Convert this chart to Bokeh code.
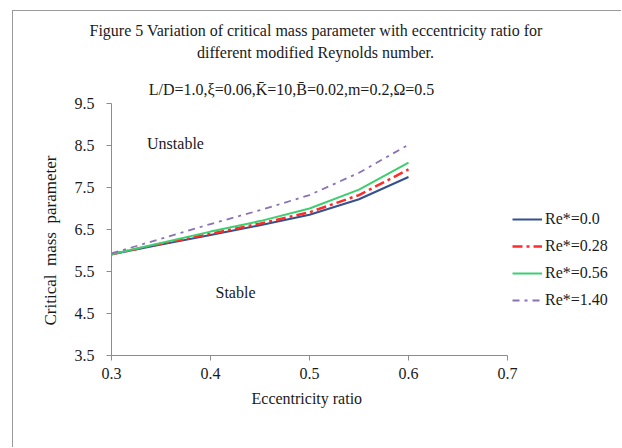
from bokeh.plotting import figure
from bokeh.models import Label, Legend, LegendItem, FixedTicker, Range1d, Title
from bokeh.embed import file_html
from bokeh.resources import INLINE

# ---- data ----
ecc = [0.30, 0.35, 0.40, 0.45, 0.50, 0.55, 0.60]
re_00 = [5.91, 6.14, 6.37, 6.60, 6.85, 7.22, 7.75]
re_028 = [5.91, 6.16, 6.40, 6.64, 6.91, 7.32, 7.93]
re_056 = [5.91, 6.18, 6.45, 6.70, 7.00, 7.45, 8.09]
re_140 = [5.93, 6.28, 6.63, 6.96, 7.32, 7.85, 8.52]
series_names = ["Re*=0.0", "Re*=0.28", "Re*=0.56", "Re*=1.40"]
x_ticks = [0.3, 0.4, 0.5, 0.6, 0.7]
y_ticks = [3.5, 4.5, 5.5, 6.5, 7.5, 8.5, 9.5]
X_MIN, X_MAX = 0.3, 0.7
Y_MIN, Y_MAX = 3.5, 9.5

FONT = "Liberation Serif"
FS = "16px"
TXT = "#1a1a1a"

# window geometry (pixels): axes box left 111, right 507, top 103, bottom 355
OX, OY = 13, 11            # content origin of the figure (after margin + 1px border)
W, H = 622 - OX, 448 - OY
AX_L, AX_R, AX_T, AX_B = 111, 507, 103, 355
FR_T = 40                  # frame top (window y); first title line sits above it
px_x = (AX_R - AX_L) / (X_MAX - X_MIN)
px_y = (AX_B - AX_T) / (Y_MAX - Y_MIN)
x_end = X_MIN + (622 - AX_L) / px_x
y_end = Y_MIN + (AX_B - FR_T) / px_y

p = figure(width=W, height=H, output_backend="svg", toolbar_location=None,
           x_range=Range1d(X_MIN, x_end), y_range=Range1d(Y_MIN, y_end),
           min_border_left=AX_L - OX, min_border_right=0,
           min_border_top=FR_T - OY, min_border_bottom=448 - AX_B)
p.margin = (OY - 1, 0, 0, OX - 1)
p.styles = {"border-left": "1px solid #9a9a9a", "border-top": "1px solid #9a9a9a"}
p.outline_line_color = None
p.grid.visible = False
p.background_fill_color = "white"
p.border_fill_color = "white"

for ax in (p.xaxis[0], p.yaxis[0]):
    ax.axis_line_color = "#8c8c8c"
    ax.major_tick_line_color = "#8c8c8c"
    ax.minor_tick_line_color = None
    ax.major_tick_in = 0
    ax.major_tick_out = 5
    ax.major_label_text_font = FONT
    ax.major_label_text_font_size = FS
    ax.major_label_text_color = TXT

p.xaxis[0].bounds = (X_MIN, X_MAX)
p.yaxis[0].bounds = (Y_MIN, Y_MAX)
p.xaxis[0].ticker = FixedTicker(ticks=x_ticks)
p.yaxis[0].ticker = FixedTicker(ticks=y_ticks)
p.xaxis[0].major_label_overrides = {t: f"{t:.1f}" for t in x_ticks}
p.yaxis[0].major_label_overrides = {t: f"{t:.1f}" for t in y_ticks}
p.xaxis[0].major_label_standoff = 7
p.yaxis[0].major_label_standoff = 12

# axis titles (side titles so they can sit off-centre like the reference)
p.add_layout(Title(text="Eccentricity ratio", align="left", offset=140, vertical_align="top",
                   standoff=16, text_font=FONT, text_font_size=FS, text_font_style="normal",
                   text_color=TXT), "below")
p.add_layout(Title(text="Critical\u00a0\u00a0mass\u00a0\u00a0parameter", align="left", offset=30,
                   vertical_align="bottom", standoff=24, text_font=FONT, text_font_size="17px",
                   text_font_style="normal", text_color=TXT), "left")
# first line of the figure caption
p.add_layout(Title(text="Figure 5 Variation  of critical mass parameter with eccentricity ratio for",
                   align="left", offset=89 - AX_L, vertical_align="bottom", standoff=4,
                   text_font=FONT, text_font_size=FS, text_font_style="normal",
                   text_color=TXT), "above")

r0 = p.line(ecc, re_00, line_color="#34508f", line_width=2)
r1 = p.line(ecc, re_028, line_color="#ff2b2b", line_width=2.5, line_dash="10 4 3 4")
r2 = p.line(ecc, re_056, line_color="#3ccf70", line_width=2)
r3 = p.line(ecc, re_140, line_color="#8a72b5", line_width=1.8, line_dash="7 5 3 5")

legend = Legend(items=[LegendItem(label=n, renderers=[r]) for n, r in zip(series_names, [r0, r1, r2, r3])],
                location=(512 - AX_L, AX_B - 310),
                glyph_width=30, glyph_height=20, label_height=20, spacing=7,
                label_standoff=3, padding=0, margin=0,
                border_line_color=None, background_fill_alpha=0,
                label_text_font=FONT, label_text_font_size=FS, label_text_color=TXT)
p.add_layout(legend, "center")

def lab(text, x, y):
    p.add_layout(Label(x=x - AX_L, y=AX_B - y, x_units="screen", y_units="screen", text=text,
                       text_font=FONT, text_font_size=FS, text_align="center",
                       text_baseline="middle", text_color=TXT))

lab("different modified Reynolds number.", 315, 52)
lab("L/D=1.0,\u03be=0.06,K\u0304=10,B\u0304=0.02,m=0.2,\u03a9=0.5", 291, 89)
lab("Unstable", 175, 143)
lab("Stable", 235, 292)

open("out.html", "w").write(file_html(p, INLINE))
